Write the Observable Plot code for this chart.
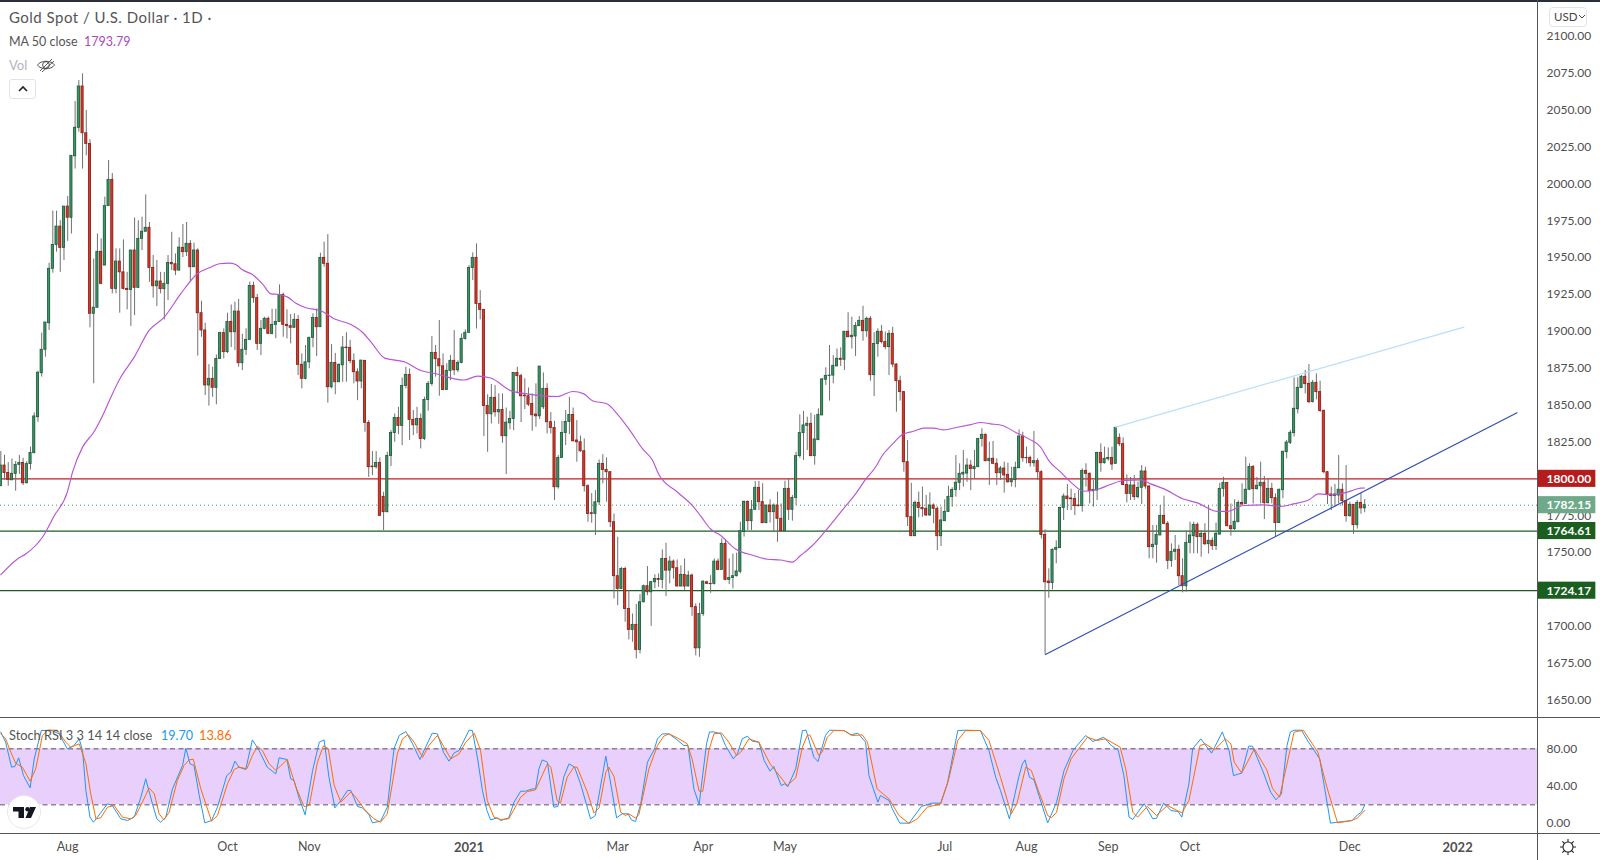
<!DOCTYPE html>
<html><head><meta charset="utf-8">
<script src="https://cdn.jsdelivr.net/npm/d3@7"></script>
<script src="https://cdn.jsdelivr.net/npm/@observablehq/plot@0.6"></script>
<style>
html,body{margin:0;padding:0;background:#fff;width:1600px;height:860px;overflow:hidden;font-family:Lato,"Open Sans",sans-serif}
#chart{position:relative;width:1600px;height:860px}
#chart svg{display:block}
.abs{position:absolute;white-space:nowrap}
.line{position:absolute;background:#555}
</style></head><body>
<div id="chart">
<div id="price" class="abs" style="left:0;top:0"></div>
<div id="stoch" class="abs" style="left:0;top:717px"></div>
<div class="line" style="left:0;top:0;width:1600px;height:2px;background:#2a2e39"></div>
<div class="line" style="left:0;top:717px;width:1600px;height:1px"></div>
<div class="line" style="left:0;top:833px;width:1600px;height:1px"></div>
<div class="line" style="left:1537px;top:0;width:1px;height:860px"></div>
<div class="abs" style="left:9px;top:8px;font-size:15px;line-height:19px;letter-spacing:.48px;color:#555">Gold Spot / U.S. Dollar · 1D ·</div>
<div class="abs" style="left:9px;top:33px;font-size:12.5px;line-height:17px;color:#555">MA 50 close</div>
<div class="abs" style="left:84px;top:33px;font-size:12.5px;line-height:17px;color:#ab47bc">1793.79</div>
<div class="abs" style="left:9px;top:57px;font-size:13px;line-height:17px;color:#b2b5be">Vol</div>
<svg class="abs" style="left:36px;top:55px" width="20" height="20" viewBox="0 0 20 20" fill="none" stroke="#444" stroke-width="0.9"><path d="M1.5 10C4.5 5 15.5 5 18.5 10C15.5 15 4.5 15 1.5 10Z"/><circle cx="10" cy="10" r="3.4"/><path d="M4 16L16 4"/><path d="M6 17L18 6"/></svg>
<div class="abs" style="left:9px;top:79px;width:27px;height:20px;border:1px solid #e0e3eb;border-radius:3px;box-sizing:border-box"></div>
<svg class="abs" style="left:17px;top:85px" width="12" height="8" viewBox="0 0 12 8" fill="none" stroke="#222" stroke-width="1.6"><path d="M2 6L6 2L10 6"/></svg>
<div class="abs" style="left:1549px;top:7px;width:38px;height:20px;border:1px solid #e0e3eb;border-radius:4px;box-sizing:border-box"></div>
<div class="abs" style="left:1554px;top:8px;font-size:11.5px;line-height:18px;color:#444">USD</div>
<svg class="abs" style="left:1578px;top:14px" width="8" height="6" viewBox="0 0 8 6" fill="none" stroke="#444" stroke-width="1"><path d="M1 1L4 4L7 1"/></svg>
<div class="abs" style="left:9px;top:727px;font-size:12.8px;line-height:17px;color:#555">Stoch RSI 3 3 14 14 close</div>
<div class="abs" style="left:161px;top:727px;font-size:12.5px;line-height:17px;color:#2196f3">19.70</div>
<div class="abs" style="left:199px;top:727px;font-size:12.8px;line-height:17px;color:#ff6d00">13.86</div>
<svg class="abs" style="left:6px;top:794px" width="36" height="36" viewBox="0 0 36 36"><circle cx="18" cy="18" r="16.5" fill="#fff" stroke="#e6e8ee" stroke-width="1"/><path fill="#131722" d="M7 13H18V24H12.5V17.5H7Z"/><circle cx="21.5" cy="15.2" r="2.2" fill="#131722"/><path fill="#131722" d="M24 13H30L25 24H19.5Z"/></svg>
<svg class="abs" style="left:1559px;top:838px" width="18" height="18" viewBox="0 0 18 18" fill="none" stroke="#222" stroke-width="1.1"><circle cx="9" cy="9" r="5"/><path d="M9 1V4M9 14V17M1 9H4M14 9H17M3.3 3.3L5.4 5.4M12.6 12.6L14.7 14.7M14.7 3.3L12.6 5.4M5.4 12.6L3.3 14.7"/></svg>
</div>
<script>
const opens=[
1795,1809,1804,1799,1803.4,1809.5,1810.8,1797,1810,1817.4,
1841.8,1871.6,1887.5,1905.5,1942.4,1958.6,1971,1956.6,1984.6,1977,
2018.7,2038,2066,2034.3,2027,1911.9,1916,1953.9,1944.6,1984.9,
2002.7,1928.8,1947.3,1940,1928.8,1928,1954.8,1929.5,1962.7,1967.5,
1970.2,1943,1930.6,1933.8,1928.6,1932.2,1946.4,1945.5,1941.2,1956.6,
1953.7,1959.3,1943.5,1954.8,1912.3,1900.6,1863.3,1867.8,1861.7,1881.3,
1898.8,1885.9,1906.4,1899.4,1913.4,1878.4,1887.5,1894.2,1930.8,1922.5,
1891.5,1901.7,1908.5,1898.3,1904.4,1906.4,1924.7,1904.4,1903.5,1902.4,
1907.8,1877.3,1867.8,1879,1895.6,1909,1902.8,1949.8,1945.8,1862.1,
1878.6,1865.5,1877,1889,1888.8,1879.8,1872.3,1866,1880,1837.9,
1808.3,1807.9,1810.8,1787.8,1777.4,1815.5,1831.1,1841.3,1835.9,1863,
1870.5,1840,1836.3,1840.6,1827,1853.5,1864.4,1885.4,1881.1,1876.3,
1860.3,1873.2,1880,1873.6,1878.6,1894.9,1899,1943,1949.8,1918.6,
1914.5,1849.4,1843.8,1854.9,1845.1,1846.7,1828.9,1837.7,1840.6,1871.8,
1869.6,1856.4,1856,1850.8,1843.6,1842.4,1848.5,1861,1838.4,1834.5,
1794.3,1814.2,1831.1,1838.6,1843.3,1826,1824.8,1818.7,1795,1776.7,
1776.2,1784.1,1810.1,1806,1804.5,1770.6,1734,1725.4,1738.9,1711.8,
1697.6,1701,1684,1716.3,1727.2,1723.1,1729.9,1732.1,1731.5,1745.7,
1737.8,1743.9,1739.4,1727,1734.9,1727,1734.4,1713,1685.1,1708.4,
1729.9,1728.8,1728.8,1743.9,1738.3,1755.9,1731.5,1732.8,1734,1737,
1764,1784.4,1771.3,1779,1793.9,1784.2,1770,1781.9,1777.4,1781.9,
1772.9,1764.5,1793.2,1779,1787.1,1815.4,1831,1835.9,1837.3,1815.4,
1826.2,1843,1867.2,1869.8,1870,1876.2,1881.4,1880.7,1899.7,1896,
1896.5,1903.5,1907.1,1900.1,1908.5,1870.3,1891.5,1899.7,1892.7,1889.3,
1898.3,1877.5,1866.2,1858.8,1811.3,1774,1761.1,1783.7,1780.3,1779.7,
1775.2,1781.9,1779.7,1761.1,1771.3,1777.6,1787.6,1792.5,1797.3,1802.9,
1803.6,1809,1806.6,1807.9,1827.1,1829.8,1812,1813.6,1810.2,1803.8,
1807,1802.7,1797.7,1799.1,1807.2,1828.7,1814.2,1814.2,1810.6,1812,
1804.5,1762,1730.4,1729.3,1751.9,1753,1780.3,1788,1786.7,1786.4,
1781.9,1781.5,1805.4,1803.4,1791.6,1792.1,1817.6,1810.6,1813.3,1814.2,
1810.2,1827.8,1823.5,1795.9,1789.8,1795.5,1787.6,1793.9,1805,1794.8,
1753.7,1755.3,1761.6,1774.9,1769.5,1744.4,1750.5,1751.9,1734,1727.2,
1756.6,1761.1,1768.8,1760.5,1762.7,1755.7,1758,1754.4,1762.2,1793.2,
1797.3,1767.9,1765.9,1770.6,1783.7,1783,1792.6,1808.1,1793,1795,
1797.3,1783.5,1793.2,1786.9,1770,1792.3,1818.1,1824.4,1831,1847.2,
1861.5,1869.2,1864.4,1852,1865.1,1858.8,1846.1,1804.5,1789.4,1788.3,
1788.7,1792.6,1784.9,1774.7,1782.4,1768.6,1783.7,1780];
const closes=[
1809,1804,1799.3,1803.4,1809.5,1810.8,1797,1810,1817.6,1842.3,
1871.9,1887.5,1906,1942.4,1958.6,1971,1956.6,1984.6,1977,2019,
2038,2066,2034.3,2027,1911.9,1916,1953.9,1932.2,1984.9,2002.7,
1928.8,1947.3,1940,1928.8,1928,1954.8,1929.5,1962.7,1967.5,1970.2,
1943,1930.6,1933.8,1928.6,1932.2,1946.4,1945.5,1941.2,1956.8,1953.7,
1959.3,1943.5,1954.8,1912.3,1900.6,1863.3,1867.8,1861.7,1881.3,1898.8,
1885.9,1906.4,1899.4,1913.4,1878.4,1887.5,1894.2,1930.8,1922.5,1891.5,
1901.7,1908.5,1898.3,1904.4,1906.4,1924.7,1904.4,1903.5,1902.4,1907.8,
1877.3,1867.8,1879,1895.6,1909,1902.8,1949.8,1945.8,1862.1,1878.6,
1865.5,1877.3,1889,1888.6,1879.8,1872.3,1866,1880.2,1838,1807.9,
1807.9,1810.8,1774.9,1777.4,1815.5,1831.1,1841.3,1835.9,1863,1870.5,
1840,1836.3,1840.6,1827,1853.5,1864.4,1885.4,1881.1,1876.3,1860.3,
1873.2,1880,1873.6,1878.6,1894.9,1899,1943,1949.8,1918.6,1914.5,
1849.4,1843.8,1854.9,1845.1,1846.7,1828.9,1838.1,1840.6,1871.8,1869.6,
1856,1856,1850.3,1843.1,1842.4,1876.1,1861,1838.4,1834.5,1794.3,
1814.2,1831.1,1838.6,1843.3,1825.5,1824.8,1818.7,1795,1776.2,1776.2,
1784.1,1810.1,1806,1804.5,1770.6,1734,1725.4,1738.9,1711.8,1697.6,
1701,1684,1716.3,1727.2,1723.1,1729.9,1732.1,1731.5,1745.7,1737.8,
1743.9,1739.4,1727,1734.9,1727,1734.4,1713,1685.1,1708.4,1730.3,
1728.8,1728.6,1743.9,1738.3,1755.9,1731.5,1732.8,1734,1737.2,1764.5,
1784.4,1771.3,1779,1793.9,1784.2,1770,1781.9,1777.4,1781.9,1772.9,
1764.5,1793.2,1779,1787.1,1815.4,1831,1836.2,1837.3,1815.4,1826.7,
1843.4,1867.4,1869.8,1870,1876.6,1881.4,1880.7,1899.7,1896,1897,
1903.7,1907.1,1900.1,1908.5,1870.3,1891.5,1899.7,1892.7,1889.3,1898.3,
1877.5,1866.2,1858.8,1811.3,1774,1761.1,1783.7,1780.3,1779.4,1775.2,
1781.9,1779.7,1761.1,1771.8,1777.6,1787.8,1792.5,1797.3,1803.4,1804.1,
1809,1806.6,1808.1,1827.1,1829.8,1812,1813.6,1810.2,1803.8,1807,
1802.3,1797.7,1799.6,1807.5,1828.7,1814,1814,1810.6,1812,1804.5,
1762,1729.9,1729.3,1751.9,1753.2,1780.3,1788,1786.2,1786.2,1781.5,
1781.5,1805.4,1803.4,1791.6,1792.5,1817.6,1810.6,1813.6,1814.2,1809.7,
1834.6,1823.5,1795.9,1789.8,1795.5,1787.6,1793.9,1805,1794.8,1753.7,
1755.3,1762,1774.9,1769.5,1744.4,1750.5,1751.9,1734,1727.2,1756.6,
1761.6,1768.8,1760.5,1762.7,1755.7,1758,1754.4,1762.7,1793.2,1797.3,
1767.9,1765.9,1770.9,1783.7,1782.6,1792.6,1808.1,1793,1795.3,1797.3,
1783.5,1793.2,1786.9,1770,1792.6,1818.3,1824.6,1831.2,1847.5,1861.7,
1869.2,1864.2,1852,1865.1,1858.8,1846.1,1804.5,1789.4,1788.3,1789.4,
1792.6,1784.9,1774.7,1782.4,1768.6,1783.7,1780,1782.15];
const highs=[
1818.5,1816,1811,1813.5,1811.7,1815.8,1814,1811.7,1821.5,1844.7,
1873,1898.8,1906,1946.2,1981.5,1981.5,1975,1984.6,1991.4,2019,
2055.8,2070,2074.6,2049.7,2029.8,1949,1966,1962.7,1991,2015.8,
2007,1955.9,1955.9,1962,1940,1954.8,1976.9,1975,1977.4,1992.5,
1973.8,1951.4,1948,1940,1940,1951.4,1967.2,1952.5,1963.4,1972.4,
1973.8,1961.6,1959.8,1955.9,1920.4,1905.5,1877.5,1875.7,1884,1899.4,
1901.7,1912.3,1917.9,1919.8,1921.6,1898,1901.7,1933.3,1933.3,1925,
1907.3,1909.6,1909.6,1915,1915,1931.5,1925.9,1914.6,1911.4,1911.9,
1910.7,1884.7,1890.4,1896,1911.9,1915.2,1953,1960.5,1965.6,1891,
1885,1878,1896.5,1899,1893.8,1884.7,1874.6,1880.2,1880,1839.5,
1818.5,1818.5,1814.2,1790.9,1818,1832.7,1844,1848.5,1868.4,1875.7,
1874.5,1846.3,1848.5,1844,1855.3,1866,1896.5,1890.4,1907.3,1884.7,
1878,1883.6,1900.5,1880,1898.3,1901,1944.6,1953.2,1959.3,1927.6,
1915,1857,1864,1863.2,1857.6,1857.6,1848,1845.8,1871.8,1875.7,
1871,1867.8,1861.6,1857.6,1864.4,1876.1,1871.8,1864.4,1845,1839,
1815.8,1839,1846.3,1855.3,1848,1839.5,1829,1827,1796,1790,
1792,1812.8,1816.4,1814.2,1805,1776.2,1760.4,1740,1740,1724.2,
1708.4,1714.8,1721.5,1728,1740.5,1730.3,1735,1735.5,1751.8,1756.3,
1747.3,1745,1745,1741,1745.7,1737.3,1735.5,1715.2,1715.6,1730.8,
1730.5,1734.4,1745.7,1745.7,1759.3,1758.6,1745.7,1749,1749.6,1770.6,
1785,1785,1785.3,1798.2,1798.2,1796.6,1782,1785.8,1783,1791,
1783,1798.4,1800,1788.7,1818,1843.4,1845.7,1841.8,1844.5,1843,
1847.5,1868,1875.3,1890.4,1883.6,1888,1888.8,1900,1912.6,1909.6,
1906,1910,1917,1909.6,1910,1899,1901.7,1904,1899.5,1900.6,
1902.8,1878,1869.6,1859,1826,1797,1785,1791,1794.4,1788.7,
1790.5,1783,1781,1780.8,1785.8,1795,1794,1815.8,1810.2,1819.2,
1813.6,1812.4,1819.2,1827.1,1833.9,1830.5,1824.9,1825.3,1813.6,1808.4,
1811.3,1810.6,1807.9,1811.3,1833.2,1831.6,1821.5,1815.4,1832.1,1813.6,
1805.5,1765.4,1739,1752.5,1758,1780.8,1789.8,1796.2,1793,1790,
1792,1806.8,1810.2,1804,1798.9,1818,1823.7,1821.5,1821,1821.5,
1834.6,1830.5,1827.8,1802.7,1801,1802.3,1797.8,1809,1807.9,1795.5,
1768.4,1768.4,1781.9,1788.3,1771,1755.9,1761.6,1755,1745.8,1764.5,
1770.6,1770.6,1770,1765,1769.5,1781.9,1760,1770,1797,1801.1,
1797.5,1783,1785.8,1785,1796.6,1814.7,1810.2,1809,1801,1811.3,
1801.6,1800,1797,1789.8,1793,1818.8,1826,1832.8,1868.5,1868.5,
1870,1873.5,1877.5,1866.7,1871.2,1866.2,1846.5,1805,1794.4,1796.2,
1815.8,1796.6,1809,1784.2,1782.5,1785.3,1790,1786];
const lows=[
1795,1799,1795,1799,1791.6,1803,1795.5,1796.6,1806,1817,
1838.4,1869,1882.5,1900.6,1939.4,1953.7,1940,1948,1961,1966,
2010,2035,2010,2019,1902.4,1864.4,1916,1931.7,1944.6,1984.9,
1925.4,1925.4,1912.3,1928,1914.6,1903.3,1910.7,1929,1954.8,1967.5,
1933.3,1922.5,1916.8,1925.4,1907.8,1920.9,1941.2,1937.8,1940.8,1950,
1950.7,1933.3,1943.5,1883.2,1896,1856.5,1849.3,1855.3,1850.2,1881.3,
1881.3,1885,1889,1887,1875.7,1873.4,1883.6,1894.2,1919,1887,
1883.6,1901,1898,1897.6,1895,1906,1896,1894.9,1891.5,1902.4,
1870,1861,1867,1874.6,1889,1882.9,1902.8,1943.5,1851.3,1861,
1857,1865.5,1865.5,1865.5,1878,1864.4,1853,1861,1831.6,1801,
1802.2,1806.7,1774.9,1764.9,1777,1808.3,1824.8,1830,1822.5,1861,
1826,1829.3,1830.4,1820.3,1826,1845.8,1862.8,1868.9,1856,1859.8,
1859.8,1866.6,1870,1872,1878,1894,1899,1934.4,1901.6,1907.8,
1828.7,1818,1837.2,1841.8,1837,1824.1,1802.9,1833.2,1832.7,1857.6,
1838.1,1847,1849,1832.3,1835,1840.2,1847,1830.4,1830.4,1785.3,
1793,1814,1822.6,1830,1825,1811.3,1818,1791,1770.6,1769.9,
1761.5,1781.9,1796.6,1784.1,1767,1718.6,1714,1725,1702.8,1690.8,
1689.2,1677.9,1681.3,1716,1720.8,1700,1725.4,1726.5,1725.4,1720.2,
1728.8,1732,1726.8,1726.8,1724.2,1727,1706.8,1680,1679,1706.6,
1728.3,1722.4,1728,1737.8,1738,1731,1728.3,1725.4,1733.5,1735.6,
1760.5,1765,1765,1778.5,1778.5,1769.5,1769.5,1770,1763.9,1757,
1764.5,1764.5,1771.8,1771.3,1781.9,1814,1812.4,1819.2,1815,1809.3,
1826.2,1843,1863.3,1852.7,1864.4,1876.2,1876.2,1873.5,1896,1888,
1883,1903.5,1893.3,1896,1866.2,1855.8,1882.5,1891.5,1887.5,1870,
1875.3,1845.2,1852.7,1804.5,1767.7,1761,1761,1773.6,1774,1774.5,
1774.5,1769.5,1751.4,1754.1,1771.3,1777.4,1780.8,1787.6,1792,1794.4,
1797.7,1792,1800,1807.9,1821.5,1811.5,1795.5,1810,1795.5,1798.9,
1790.3,1797,1794.4,1793.9,1807,1811.3,1810.2,1807.9,1807.9,1798.9,
1759.3,1681,1719,1724.7,1742.4,1752.8,1771.8,1778.5,1778.5,1775.1,
1781,1777.4,1794.4,1783,1780.8,1785.3,1804.5,1810,1812,1805.7,
1810,1821.9,1795.5,1783.7,1785.3,1785.3,1786.5,1782.6,1793,1745.8,
1745.8,1742.8,1761.6,1769,1738.5,1740,1744.6,1727.7,1722.7,1723.2,
1749.2,1749.2,1749.2,1746.9,1754.8,1749,1751.4,1751.4,1762,1787.6,
1767.5,1761.1,1765,1770.5,1782,1782.6,1792,1783,1792.5,1783,
1772.4,1783,1783,1760.5,1770,1786.5,1813.6,1823.3,1828.3,1844,
1861.3,1857.6,1850.9,1851.5,1853.6,1845,1803.4,1782.6,1778.5,1780.8,
1783,1781.5,1770.6,1774,1762.3,1766,1776,1777];

const maBars=[0,4.5,6.7,11.2,14.4,17.9,19.3,22,25,27.8,29.2,32.3,35.9,39.9,44,48.4,52.9,56.5,58.8,61.4,63.2,65,67.7,70.4,72.7,74.9,77.2,79.4,82.1,86.1,89.7,94.2,97.3,100,103.2,108.9,113,116.5,124.6,128.3,131.8,137.2,141.7,149.8,153.9,156.9,159.2,163.2,165.5,169,172.7,175.4,177,182.1,186.1,188.4,191,193.7,197.7,202.6,206.3,209.8,213,215.2,218.4,222,226,230,232.7,235.4,237.2,240,242.6,245.6,248.4,251,253.7,257.4,261,263.7,266.3,269.5,273,276.6,279.8,282,285.2,287.9,291.4,295.1,298.6,302.2,306.8,309.4,313,318,322,327.4,330,334.4,339.8,344.4,347.9,352,354.6,357.8,362.4,365.9,367];
const maValues=[1735,1745.7,1749,1760.4,1775,1791,1804.5,1821.5,1831.6,1845,1853,1869,1882.5,1900.6,1909.6,1925.4,1939,1943.5,1945.8,1946.2,1945.3,1941.7,1938.5,1932.2,1925.4,1925,1923.2,1919,1916,1914,1908.5,1904.6,1899.4,1891.5,1882,1879,1873.4,1871.6,1867,1869.6,1868.4,1859.8,1857.6,1855.8,1859.2,1857.6,1853,1850.8,1845.1,1833.9,1820.3,1812.4,1803.3,1790.9,1781.9,1774.5,1766,1761.6,1752.5,1748,1745.5,1745,1743.5,1748,1754.8,1765,1777.4,1789.8,1799.6,1808,1815.8,1823.7,1830,1832.3,1834.4,1834.4,1833.2,1835,1836.8,1838.2,1837.3,1836.2,1831.6,1827.1,1821.5,1812.4,1804.5,1797.8,1791.6,1792.8,1796.2,1798.9,1799.3,1796.6,1793.2,1786.5,1783.7,1777.9,1777.9,1781.9,1782.4,1781.3,1783,1785.8,1789.8,1789.2,1791,1793.7,1793.79];

const kBars=[0,1.3,2.9,3.8,4.8,6.1,7.9,9,10.9,13.5,15.7,17.9,19.7,21.1,22,22.9,24,24.9,26,28.7,30,32.3,34.1,35.9,37.7,39,40.8,42,43,44.4,46.2,48.9,49.8,50.9,52,53.4,54.9,56.7,58.3,60.8,61.9,63,64.1,65.9,67.7,69.5,71.7,74,74.9,77,78,78.9,80.3,81.9,83.9,85.7,87,88.3,89.9,91.5,93.3,94.2,96,97.3,99.1,100,102.2,104,105.8,107.2,109,110.8,112.8,114.3,116.1,117.5,119.1,120.6,122,123.3,126,126.9,128.3,129.6,130.8,131.8,133.6,134.5,136.7,138.1,139.9,141.2,143,143.9,144.8,145.7,147.1,148.8,149.9,151.5,152.9,154.4,156,158.7,160,162.8,163.6,165.7,167.2,168.8,169.7,170.8,172.2,174,175.8,176.7,178,179.8,182,183.8,184.9,186.5,187.9,189.9,190.7,191.9,193.7,195,197.1,198.2,199.5,200.9,202.2,204,205.4,207,208,210,210.9,211.8,213.9,215.7,216.7,218.8,219.9,221.9,223,226.9,228.7,230.6,232.7,233.6,236,236.7,239,239.9,241.9,244.4,247.7,250.6,252.9,254.7,257.5,259.6,263.6,265.9,267.7,269,271.4,273.9,274.9,275.6,276.8,278,281.7,284.1,286.1,288.5,291.9,293.9,296.8,298.8,300.7,302.2,303.6,304.6,306.6,307.7,310,311,312.9,314.9,316.8,317.8,319.7,320.7,322.9,325.8,328.7,330.5,331.7,333.9,335.8,336.8,339.7,341.7,343.1,344.6,346.1,347,348,350,351.9,354.9,357.8,359.7,363.6,365.1,366.1,367];
const kValues=[97.9,87.1,60.4,61.1,70.4,51.4,38.2,69.3,99.6,100,96,80,83.6,90.7,78.2,35.4,6.8,1.4,6.8,21.1,19.3,5,3.2,6.8,28.2,47.9,21.1,5,1.4,6.8,37.1,62.1,80.7,64.1,62.1,30,0.7,3.2,17.5,51.4,55,66.8,60.4,57.9,89.6,78.2,60.4,53.2,70.4,68.6,47.9,46.1,26.8,9.3,56.8,87.1,89.6,49.6,16.8,24.6,35.4,35.4,18.2,16.8,9.3,0.7,2.5,17.5,80,94.3,98.6,85.4,68.6,81.8,96.8,96.1,76.4,66.8,75.7,78.2,100,99.6,69.3,35.4,14,3.9,6.1,3.2,6.1,22.9,34.6,34.6,37.1,37.1,58.6,68.2,65.7,17.5,18.2,50,63.9,60.4,42.5,5,8.6,72.1,54.8,6.1,10.4,10.4,3.9,2.1,21.1,65.7,79,90.7,96.1,96.1,89.6,83.6,83.6,37.1,20.4,85.4,98.1,98.1,96.1,83.6,69.3,74.6,90.7,93.6,88.2,87.1,67.5,56.1,61.1,40.7,42.5,39.6,58.6,99.6,100,70.9,66.4,94.3,100,99.6,95,96.8,87.1,51.4,22.9,30,24.6,15.7,0.4,0.4,18.2,21.8,21.8,42.5,99.6,100,99.6,78.2,49.6,35.4,5,49.6,63.9,68.2,49.6,46.8,0.7,22.9,56.8,78.2,94.3,87.9,92.5,83.6,78.2,51.4,6.8,4.3,15.7,21.1,5,5.7,21.8,13.9,12.8,6.8,42.5,80,90.7,75.4,98.1,78.2,51.4,54,82.9,82.9,55,33.6,25.4,31.8,83.6,98.1,100,100,87.1,69.3,0.4,1.4,3.2,9.3,12.1,19.7];
const dBars=[0,1.3,2.7,4,5.8,7.9,9.4,11.2,12.6,15.2,17.5,18.8,21.1,22.9,24.2,25.6,26.9,28.7,30.5,32.7,35,36.3,38.1,39.9,41.3,42.6,43.9,45.3,47.5,49.3,50.7,51.8,53.8,56.7,58.3,61,62.8,64.1,66.2,67.7,69.1,70.4,72.2,74,77.1,79.4,81.6,83,85.2,86.8,88.1,89.7,91.5,94.2,95.5,97.8,100.4,102.2,104,106.7,108.1,109.6,111.2,113.5,115.2,117.5,119.3,121.1,123.3,125.1,127.4,129.1,130.9,132.7,134.5,136.7,139.9,141.7,143.9,147.1,148,149.7,150.6,152.4,154.2,155.1,157.8,159.6,161,162.8,163.6,165,166.8,168.1,169,170.8,171.7,174.4,176.7,178.4,179.8,182,184.7,186,187.9,188.9,190.5,191.9,193.9,195.9,198,199.1,201.3,204,207,211.6,213.9,215.7,217,217.7,220.1,221,222.4,224.2,226.9,229.1,231.8,233.2,235.8,239,241.7,244.4,246.6,249.3,252.9,255.1,257.5,259.6,263.6,265.9,269,271.9,273.4,275.8,277.3,279.2,281.7,282.7,284.1,286.1,288,292.4,294.9,297.3,301.2,302.7,304.6,305.9,308.5,311,313.9,317.8,319.7,322.7,324.1,326.6,329.5,331,331.9,333.9,337.3,340.7,342.2,344.1,345.6,348,350.5,354.4,356.8,359.7,363.6,365.1,367];
const dValues=[96.1,90.7,76.4,64.6,60.4,45.4,58.6,94.3,100,100,87.1,81.8,85.4,64.1,31.8,5,6.1,17.5,19.3,6.8,5,8.6,22.9,38.2,31.8,10.4,3.9,12.1,46.1,62.1,68.2,68.9,37.5,2.5,8.6,42.5,57.9,60.4,58.6,73,82.7,78.2,64.1,56.9,68.6,39.3,18.2,19.3,65.7,83.2,80.4,41.1,22.9,33.9,28.2,15.5,5,1.4,10.4,74.6,90.7,95.4,87.1,70.9,83.6,94.3,81.8,69.3,74.6,87.1,96.8,78.2,24.6,6.8,4.3,5,28.2,34.3,36.1,64,60.4,24.6,21.8,49.6,60.4,60.4,33.9,11.4,16.8,55,60.4,50.4,12.1,8.6,10.4,5.7,9.6,58.6,83.6,93.6,96.1,91.8,85.4,69.3,34.6,34.6,78.2,96.1,97.2,87.1,72.9,76.4,90.7,87.1,64,40.7,48.9,81.8,94.3,95,72.9,76.4,92.5,99.6,99.6,94.3,95,87.1,37.1,26.4,8.6,0,5,17.5,21.1,47.9,89,99.6,99.6,89,49.6,10.4,21.1,60.4,56.8,35.4,8.6,6.1,12.1,48.2,69.3,92.5,89,90.7,81.8,58.6,12.1,6.8,18.2,8.6,19.3,11.4,24.6,83.6,85.4,79,90.7,85.4,65.7,54,80,57.1,37.5,28.2,55,97.9,100,76.4,39.3,0.7,3.2,6.1,13.86];

const priceTicks=[1650,1675,1700,1725,1750,1775,1800,1825,1850,1875,1900,1925,1950,1975,2000,2025,2050,2075,2100];
const stochTicks=[0,40,80];
const monthBars=[18,61,83,166,189,211,254,276,298,320,363];
const monthLabels=["Aug","Oct","Nov","Mar","Apr","May","Jul","Aug","Sep","Oct","Dec"];
const yearBars=[126,392];
const yearLabels=["2021","2022"];
const levels=[1800,1764.61,1724.17];
const levelColors=["#c41c1c","#1b5e20","#1b5e20"];
const lastPrice=1782.15;
const tags=[
 {v:1800,t:"1800.00",c:"#b71c1c"},
 {v:1782.15,t:"1782.15",c:"#6fa98a"},
 {v:1764.61,t:"1764.61",c:"#1b5e20"},
 {v:1724.17,t:"1724.17",c:"#1b5e20"}];
const blueLine=[{b:281.1,p:1680.9},{b:408,p:1844.8}];
const lightLine=[{b:300,p:1835.1},{b:393.7,p:1902.9}];

const font="Lato, 'Open Sans', sans-serif";
const xDomain=[-0.08,413.5];
const axisRowValue=-25.7;
const bars=opens.map((o,i)=>({i,o,c:closes[i],h:highs[i],l:lows[i]}));
const up=bars.filter(d=>d.c>=d.o), down=bars.filter(d=>d.c<d.o);
const ma=maBars.map((b,i)=>({b,v:maValues[i]}));
const k=kBars.map((b,i)=>({b,v:kValues[i]}));
const dd=dBars.map((b,i)=>({b,v:dValues[i]}));
const candle=(rows,fill,stroke)=>Plot.rect(rows,{x1:d=>d.i-0.29,x2:d=>d.i+0.29,y1:d=>d.o,y2:d=>d.c,fill,stroke,strokeWidth:0.85});

const price=Plot.plot({
 width:1600,height:717,marginTop:0,marginBottom:0,marginLeft:0,marginRight:63,
 style:{background:"transparent",fontFamily:font,overflow:"visible"},
 x:{type:"linear",domain:xDomain,axis:null},
 y:{domain:[1638.2,2124.3],range:[717,0],axis:null},
 marks:[
  Plot.ruleY([lastPrice],{stroke:"#3f9a70",strokeDasharray:"1 3",strokeWidth:1}),
  Plot.ruleY(levels,{stroke:(d,i)=>levelColors[i],strokeWidth:1.3}),
  Plot.ruleX(bars,{x:"i",y1:"l",y2:"h",stroke:"#707070",strokeWidth:1}),
  candle(up,"#3f9468","#1d5c3b"),
  candle(down,"#d63a28","#8a2018"),
  Plot.line(ma,{x:"b",y:"v",stroke:"#b855d4",strokeWidth:1.15,curve:"monotone-x"}),
  Plot.line(lightLine,{x:"b",y:"p",stroke:"#bbdefb",strokeWidth:1.2}),
  Plot.line(blueLine,{x:"b",y:"p",stroke:"#2e4fb8",strokeWidth:1.2}),
  Plot.axisY({anchor:"right",ticks:priceTicks,tickSize:0,tickPadding:9,tickFormat:d=>d.toFixed(2),fontSize:12,color:"#4f4f4f",label:null}),
  Plot.rect(tags,{x1:413.5,x2:429.2,y1:d=>d.v-5.8,y2:d=>d.v+5.8,fill:d=>d.c}),
  Plot.text(tags,{x:413.5,y:"v",text:"t",dx:9,textAnchor:"start",fill:"#fff",fontSize:12,fontWeight:700})
 ]});
document.getElementById("price").append(price);

const stoch=Plot.plot({
 width:1600,height:143,marginTop:0,marginBottom:27,marginLeft:0,marginRight:63,
 style:{background:"transparent",fontFamily:font,overflow:"visible"},
 x:{type:"linear",domain:xDomain,axis:null},
 y:{domain:[-10.7,113.6],axis:null},
 marks:[
  Plot.rect([{}],{x1:xDomain[0],x2:xDomain[1],y1:20,y2:80,fill:"#e9cffc"}),
  Plot.ruleY([20,80],{stroke:"#5d4f63",strokeDasharray:"5 3.5",strokeWidth:1}),
  Plot.line(k,{x:"b",y:"v",stroke:"#2196f3",strokeWidth:1}),
  Plot.line(dd,{x:"b",y:"v",stroke:"#ff6d00",strokeWidth:1}),
  Plot.axisY({anchor:"right",ticks:stochTicks,tickSize:0,tickPadding:9,tickFormat:d=>d.toFixed(2),fontSize:12,color:"#4f4f4f",label:null}),
  Plot.text(monthBars,{x:d=>d,y:()=>axisRowValue,text:(d,i)=>monthLabels[i],fontSize:12.5,fill:"#4f4f4f"}),
  Plot.text(yearBars,{x:d=>d,y:()=>axisRowValue,text:(d,i)=>yearLabels[i],fontSize:13,fontWeight:700,fill:"#4f4f4f"})
 ]});
document.getElementById("stoch").append(stoch);
</script>
</body></html>
